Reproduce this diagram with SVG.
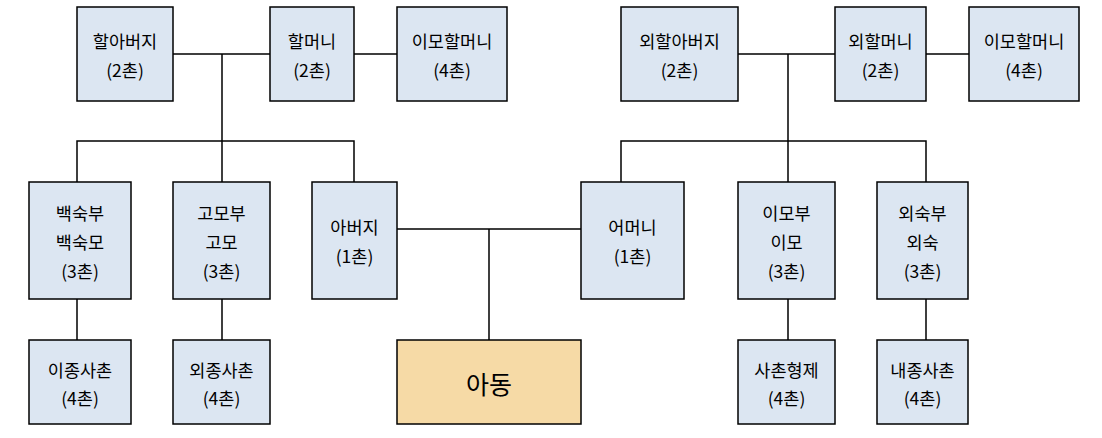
<svg xmlns="http://www.w3.org/2000/svg" width="1102" height="438" viewBox="0 0 1102 438">
<style>
.box{fill:#DCE6F2;stroke:#000;stroke-width:1.5}
.me{fill:#F6DAA6;stroke:#000;stroke-width:1.5}
.t{font-family:"Noto Sans CJK KR","Noto Sans",sans-serif;font-size:17.5px;fill:#000;text-anchor:middle;dominant-baseline:central}
.big{font-size:25px}
.c{stroke:#000;stroke-width:1.5;fill:none}
</style>
<rect width="1102" height="438" fill="#fff"/>
<g id="connectors">
<path class="c" d="M173 54H270M354 54H397M222 54V141M77 182V141H354V182M222 141V182"/>
<path class="c" d="M738 54H835M926 54H969M788 54V141M621 182V141H926V182M788 141V182"/>
<path class="c" d="M397 229H581M489 229V340"/>
<path class="c" d="M77 299V340M222 299V340M788 299V340M926 299V340"/>
</g>
<g id="n-grandfather"><rect class="box" x="77" y="7" width="96" height="94"/><text class="t" x="125" y="40">할아버지</text><text class="t" x="125" y="69">(2촌)</text></g>
<g id="n-grandmother"><rect class="box" x="270" y="7" width="84" height="94"/><text class="t" x="312" y="40">할머니</text><text class="t" x="312" y="69">(2촌)</text></g>
<g id="n-greataunt1"><rect class="box" x="397" y="7" width="110" height="94"/><text class="t" x="452" y="40">이모할머니</text><text class="t" x="452" y="69">(4촌)</text></g>
<g id="n-mgrandfather"><rect class="box" x="621" y="7" width="117" height="94"/><text class="t" x="679.5" y="40">외할아버지</text><text class="t" x="679.5" y="69">(2촌)</text></g>
<g id="n-mgrandmother"><rect class="box" x="835" y="7" width="91" height="94"/><text class="t" x="880.5" y="40">외할머니</text><text class="t" x="880.5" y="69">(2촌)</text></g>
<g id="n-greataunt2"><rect class="box" x="969" y="7" width="110" height="94"/><text class="t" x="1024" y="40">이모할머니</text><text class="t" x="1024" y="69">(4촌)</text></g>
<g id="n-uncle1"><rect class="box" x="29" y="182" width="102" height="117"/><text class="t" x="80" y="212">백숙부</text><text class="t" x="80" y="241">백숙모</text><text class="t" x="80" y="270">(3촌)</text></g>
<g id="n-aunt1"><rect class="box" x="173" y="182" width="97" height="117"/><text class="t" x="221.5" y="212">고모부</text><text class="t" x="221.5" y="241">고모</text><text class="t" x="221.5" y="270">(3촌)</text></g>
<g id="n-father"><rect class="box" x="312" y="182" width="85" height="117"/><text class="t" x="354.5" y="226">아버지</text><text class="t" x="354.5" y="255">(1촌)</text></g>
<g id="n-mother"><rect class="box" x="581" y="182" width="103" height="117"/><text class="t" x="632.5" y="226">어머니</text><text class="t" x="632.5" y="255">(1촌)</text></g>
<g id="n-aunt2"><rect class="box" x="738" y="182" width="97" height="117"/><text class="t" x="786.5" y="212">이모부</text><text class="t" x="786.5" y="241">이모</text><text class="t" x="786.5" y="270">(3촌)</text></g>
<g id="n-uncle2"><rect class="box" x="877" y="182" width="91" height="117"/><text class="t" x="922.5" y="212">외숙부</text><text class="t" x="922.5" y="241">외숙</text><text class="t" x="922.5" y="270">(3촌)</text></g>
<g id="n-cousin1"><rect class="box" x="29" y="340" width="102" height="84"/><text class="t" x="80" y="369">이종사촌</text><text class="t" x="80" y="397">(4촌)</text></g>
<g id="n-cousin2"><rect class="box" x="173" y="340" width="97" height="84"/><text class="t" x="221.5" y="369">외종사촌</text><text class="t" x="221.5" y="397">(4촌)</text></g>
<g id="n-child"><rect class="me" x="397" y="340" width="184" height="84"/><text class="t big" x="489" y="383">아동</text></g>
<g id="n-cousin3"><rect class="box" x="738" y="340" width="97" height="84"/><text class="t" x="786.5" y="369">사촌형제</text><text class="t" x="786.5" y="397">(4촌)</text></g>
<g id="n-cousin4"><rect class="box" x="877" y="340" width="91" height="84"/><text class="t" x="922.5" y="369">내종사촌</text><text class="t" x="922.5" y="397">(4촌)</text></g>
</svg>
